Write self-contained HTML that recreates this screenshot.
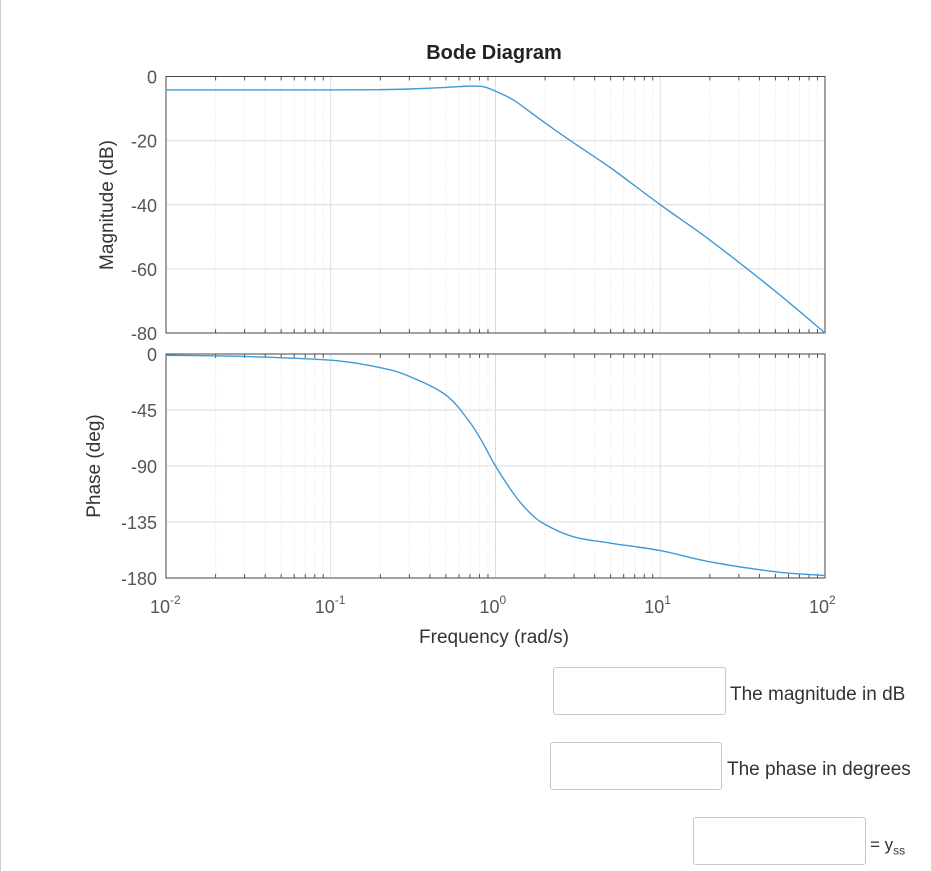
<!DOCTYPE html>
<html><head><meta charset="utf-8"><style>
body{margin:0;width:931px;height:871px;background:#fff;position:relative;overflow:hidden;font-family:"Liberation Sans",sans-serif}
.box{position:absolute;border:1px solid #c8c8c8;border-radius:3px;background:#fff}
.lbl{position:absolute;font-size:19px;color:#333}
</style></head><body>
<div style="position:absolute;left:0;top:0;width:1px;height:871px;background:#ccc"></div>
<svg id="chart" width="931" height="660" style="position:absolute;left:0;top:0" font-family="Liberation Sans, sans-serif"></svg>
<div class="box" style="left:553px;top:667px;width:171px;height:46px"></div>
<div class="lbl" style="left:730px;top:684px">The magnitude in dB</div>
<div class="box" style="left:550px;top:742px;width:170px;height:46px"></div>
<div class="lbl" style="left:727px;top:759px">The phase in degrees</div>
<div class="box" style="left:693px;top:817px;width:171px;height:46px"></div>
<div class="lbl" style="left:870px;top:835px;font-size:17px">= y<sub style="font-size:12px">ss</sub></div>
<script>
const magFreq=[0.01,0.03,0.1,0.2,0.3,0.5,0.7,0.85,1,1.3,2,3,5,10,20,50,100];
const magDb=[-4.2,-4.2,-4.2,-4.1,-3.9,-3.4,-3.0,-3.2,-4.6,-7.5,-14.5,-20.8,-28.5,-40,-51,-67,-80];
const phFreq=[0.01,0.03,0.1,0.2,0.3,0.5,0.7,0.85,1,1.3,1.6,2,3,5,10,20,50,100];
const phDeg=[-1,-2,-5,-11,-18,-33,-55,-73,-90,-113,-127,-137,-147,-152,-158,-167,-175,-178];
const magTicks=[0,-20,-40,-60,-80];
const phTicks=[0,-45,-90,-135,-180];
const decades=[-2,-1,0,1,2];
const NS='http://www.w3.org/2000/svg';
const svg=document.getElementById('chart');
const X0=166,X1=825;
const xs=f=>X0+(Math.log10(f)+2)/4*(X1-X0);
const magY=v=>76.5+(-v)/80*(333-76.5);
const phY=v=>354+(-v)/180*(578-354);
function el(t,a,txt){const e=document.createElementNS(NS,t);for(const k in a)e.setAttribute(k,a[k]);if(txt!==undefined)e.textContent=txt;svg.appendChild(e);return e;}
function path(pts){let d='M'+pts[0][0]+','+pts[0][1];for(let i=0;i<pts.length-1;i++){const p0=pts[Math.max(0,i-1)],p1=pts[i],p2=pts[i+1],p3=pts[Math.min(pts.length-1,i+2)];d+=' C'+(p1[0]+(p2[0]-p0[0])/6)+','+(p1[1]+(p2[1]-p0[1])/6)+' '+(p2[0]-(p3[0]-p1[0])/6)+','+(p2[1]-(p3[1]-p1[1])/6)+' '+p2[0]+','+p2[1];}return d;}
function panel(top,bot,ticks,yf,fr,vals,nm){
  const r=el('rect',{x:X0,y:top,width:X1-X0,height:bot-top,fill:'#fff',stroke:'none'});
  
  for(let d=-2;d<2;d++)for(let m=2;m<10;m++){const x=xs(m*Math.pow(10,d));
    const g=el('line',{x1:x,x2:x,y1:top,y2:bot,stroke:'#e4e4e4','stroke-dasharray':'1,2'});
    el('line',{x1:x,x2:x,y1:bot,y2:bot-4,stroke:'#555'});el('line',{x1:x,x2:x,y1:top,y2:top+4,stroke:'#555'});}
  decades.forEach(d=>{const x=xs(Math.pow(10,d));const g=el('line',{x1:x,x2:x,y1:top,y2:bot,stroke:'#dcdcdc'});});
  ticks.forEach(t=>{const y=yf(t);el('line',{x1:X0,x2:X1,y1:y,y2:y,stroke:'#dcdcdc'});
    const tx=el('text',{x:157,y:y+7,'text-anchor':'end','font-size':18,fill:'#555'},String(t));});
  const b=el('rect',{x:X0,y:top,width:X1-X0,height:bot-top,fill:'none',stroke:'#444','stroke-width':1});
  const pts=fr.map((f,i)=>[xs(f),yf(vals[i])]);
  const p=el('path',{d:path(pts),fill:'none',stroke:'#3d9bd6','stroke-width':1.4});
}
panel(76.5,333,magTicks,magY,magFreq,magDb,'magnitude');
panel(354,578,phTicks,phY,phFreq,phDeg,'phase');
decades.forEach(d=>{const x=xs(Math.pow(10,d));const t=el('text',{x:x-6,y:613,'text-anchor':'middle','font-size':18,fill:'#555'},'10');
  el('text',{x:x+4,y:604,'font-size':12,fill:'#555'},String(d));});
let t=el('text',{x:494,y:59,'text-anchor':'middle','font-size':20,'font-weight':'bold',fill:'#222'},'Bode Diagram');
t=el('text',{x:494,y:643,'text-anchor':'middle','font-size':19,fill:'#333'},'Frequency  (rad/s)');
t=el('text',{x:0,y:0,'text-anchor':'middle','font-size':19,fill:'#333',transform:'translate(113,205) rotate(-90)'},'Magnitude (dB)');
t=el('text',{x:0,y:0,'text-anchor':'middle','font-size':19,fill:'#333',transform:'translate(100,466) rotate(-90)'},'Phase (deg)');
</script>
</body></html>
